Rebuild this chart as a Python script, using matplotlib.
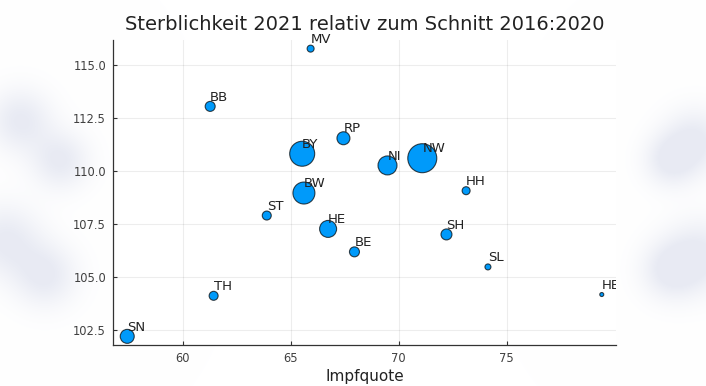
import numpy as np
import matplotlib
matplotlib.use("Agg")
import matplotlib.pyplot as plt
from matplotlib.transforms import Bbox, TransformedBbox

# Bundeslaender: Impfquote vs. Sterblichkeit 2021 (relativ zu 2016:2020)
laender = ["MV", "BB", "BY", "RP", "NI", "NW", "BW", "ST", "HE", "BE",
           "SH", "HH", "SL", "HB", "TH", "SN"]
impfquote = [65.93, 61.28, 65.54, 67.45, 69.49, 71.10, 65.62, 63.90, 66.74, 67.96,
             72.22, 73.13, 74.14, 79.41, 61.44, 57.44]
sterblichkeit = [115.75, 113.03, 110.80, 111.53, 110.25, 110.59, 108.95, 107.89, 107.26, 106.18,
                 107.00, 109.06, 105.47, 104.17, 104.11, 102.20]
# Markergroesse (Durchmesser in px, aus dem Bild geschaetzt)
groesse = [7, 10, 25, 13, 19, 29, 22, 9, 17, 10,
           11, 8, 6, 4, 9, 14]

fig = plt.figure(figsize=(7.06, 3.86), dpi=100)

# weicher, verschwommener Hintergrund an den Raendern
h, w = 386, 706
yy, xx = np.mgrid[0:h, 0:w]
blobs = [(20, 120, 22), (60, 160, 20), (5, 240, 25), (45, 275, 22),
         (695, 140, 22), (670, 160, 18), (700, 255, 25), (670, 270, 20)]
dark = np.zeros((h, w))
for bx, by, r in blobs:
    dark += np.exp(-((xx - bx) ** 2 + (yy - by) ** 2) / (2 * r ** 2))
dark = np.clip(dark, 0, 1) * 0.09
bg = np.ones((h, w, 3))
bg[..., 0] -= dark * 1.0
bg[..., 1] -= dark * 0.9
bg[..., 2] -= dark * 0.5
fig.figimage(bg, xo=0, yo=0, origin="upper", zorder=-1)

ax = fig.add_axes([113 / 706, 1 - 345 / 386, (616 - 113) / 706, (345 - 40) / 386])
ax.set_zorder(1)
ax.set_facecolor("white")

s = [(d * 0.72) ** 2 for d in groesse]
ax.scatter(impfquote, sterblichkeit, s=s, color="#009AFA",
           edgecolors=(0, 0, 0, 0.7), linewidths=0.8, zorder=3)

# Beschriftungen nur am rechten Rand der Plotflaeche abschneiden
clip = TransformedBbox(Bbox([[0, 0], [616 / 706, 1]]), fig.transFigure)
for name, x, y in zip(laender, impfquote, sterblichkeit):
    t = ax.annotate(name, (x, y), xytext=(0, 2), textcoords="offset points",
                    ha="left", va="bottom", fontsize=9.5, color="#222222",
                    annotation_clip=False, zorder=4)
    t.set_clip_box(clip)
    t.set_clip_on(True)

ax.margins(0.03)
ax.set_xticks([60, 65, 70, 75])
ax.set_yticks([102.5, 105.0, 107.5, 110.0, 112.5, 115.0])
ax.set_yticklabels(["102.5", "105.0", "107.5", "110.0", "112.5", "115.0"])

ax.grid(True, color="black", alpha=0.07, linewidth=0.8)
ax.set_axisbelow(True)
for side in ["top", "right"]:
    ax.spines[side].set_visible(False)
for side in ["left", "bottom"]:
    ax.spines[side].set_color("#333333")
    ax.spines[side].set_linewidth(0.9)
ax.tick_params(direction="in", length=3, width=0.8, color="#333333",
               labelsize=8.3, labelcolor="#404040", pad=5)

ax.set_xlabel("Impfquote", fontsize=11, color="#222222", labelpad=3)
ax.set_title("Sterblichkeit 2021 relativ zum Schnitt 2016:2020",
             fontsize=14, color="#222222", pad=7)

fig.savefig("out.png", dpi=100)
